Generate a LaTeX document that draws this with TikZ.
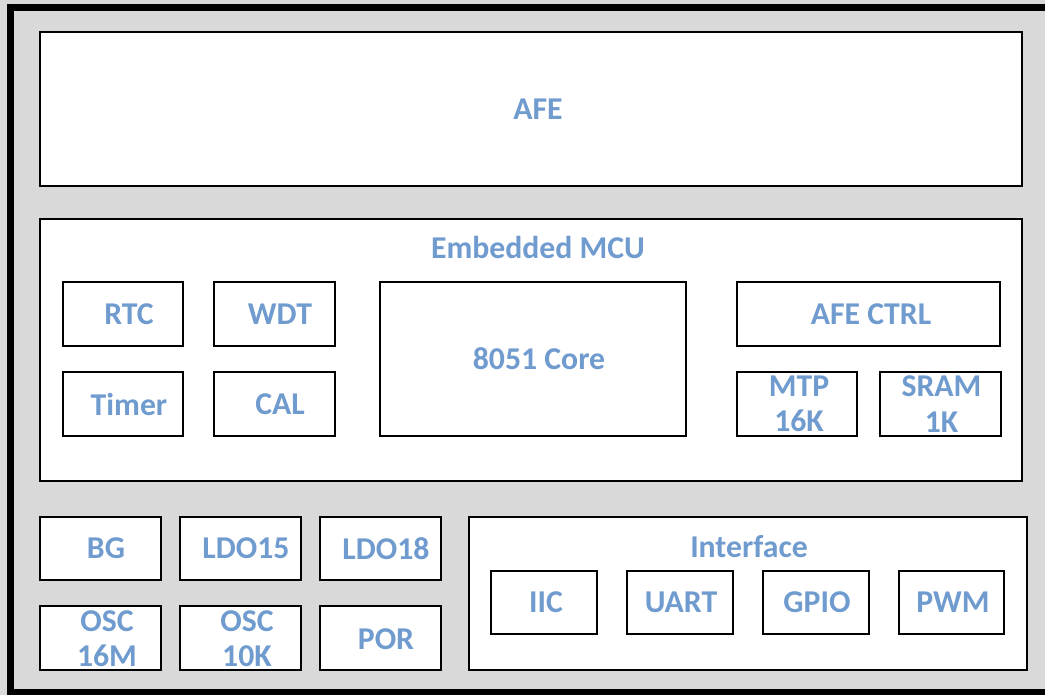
\documentclass[tikz,border=0pt]{standalone}
\usepackage{fontspec}
\setmainfont{Carlito}
\definecolor{txt}{RGB}{111,155,207}
\definecolor{bggray}{RGB}{217,217,217}
\begin{document}
\begin{tikzpicture}[x=0.75pt,y=-0.75pt,
  box/.style={draw=black,line width=1.5pt,fill=white,inner sep=0pt,outer sep=0pt},
  lbl/.style={text=txt,font=\fontsize{23.8}{26.5}\selectfont\bfseries,align=center,inner sep=0pt}]
\useasboundingbox (0,0) rectangle (1045,695);
\fill[bggray] (0,0) rectangle (1045,695);
\draw[line width=5.25pt] (1060,7.5) -- (10.5,7.5) -- (10.5,692) -- (1060,692);
% AFE
\node[box,minimum width=982*0.75pt,minimum height=154*0.75pt] (afe) at (531,109) {};
\node[lbl] (afet) at (538,109) {AFE};
% Embedded MCU
\node[box,minimum width=982*0.75pt,minimum height=262*0.75pt] (mcu) at (531,350) {};
\node[lbl] (mcut) at (538,247) {Embedded MCU};
\node[box,minimum width=120*0.75pt,minimum height=64*0.75pt] (rtc) at (123,314) {};
\node[lbl] (rtct) at (129,314) {RTC};
\node[box,minimum width=121*0.75pt,minimum height=64*0.75pt] (wdt) at (274.5,314) {};
\node[lbl] (wdtt) at (280,314) {WDT};
\node[box,minimum width=120*0.75pt,minimum height=64*0.75pt] (timer) at (123,404) {};
\node[lbl] (timert) at (129,404) {Timer};
\node[box,minimum width=121*0.75pt,minimum height=64*0.75pt] (cal) at (274.5,404) {};
\node[lbl] (calt) at (280,404) {CAL};
\node[box,minimum width=306*0.75pt,minimum height=154*0.75pt] (core) at (533,359) {};
\node[lbl] (coret) at (539,359) {8051 Core};
\node[box,minimum width=263*0.75pt,minimum height=64*0.75pt] (afectrl) at (868.5,314) {};
\node[lbl] (afectrlt) at (871,314) {AFE CTRL};
\node[box,minimum width=120*0.75pt,minimum height=64*0.75pt] (mtp) at (797,404) {};
\node[lbl] (mtpt) at (799,404) {MTP\\16K};
\node[box,minimum width=121*0.75pt,minimum height=64*0.75pt] (sram) at (940.5,404) {};
\node[lbl] (sramt) at (941.5,404) {SRAM\\1K};
% power / clock
\node[box,minimum width=121*0.75pt,minimum height=63*0.75pt] (bg) at (100.5,548.5) {};
\node[lbl] (bgt) at (106,548.5) {BG};
\node[box,minimum width=121*0.75pt,minimum height=63*0.75pt] (ldoa) at (240.5,548.5) {};
\node[lbl] (ldoat) at (246,548.5) {LDO15};
\node[box,minimum width=121*0.75pt,minimum height=63*0.75pt] (ldob) at (380.5,548.5) {};
\node[lbl] (ldobt) at (386,548.5) {LDO18};
\node[box,minimum width=121*0.75pt,minimum height=64*0.75pt] (osca) at (100.5,638) {};
\node[lbl] (oscat) at (107,639) {OSC\\16M};
\node[box,minimum width=121*0.75pt,minimum height=64*0.75pt] (oscb) at (240.5,638) {};
\node[lbl] (oscbt) at (247,639) {OSC\\10K};
\node[box,minimum width=121*0.75pt,minimum height=64*0.75pt] (por) at (380.5,638) {};
\node[lbl] (port) at (386,639) {POR};
% Interface
\node[box,minimum width=558*0.75pt,minimum height=153*0.75pt] (intf) at (748,593.5) {};
\node[lbl] (intft) at (749,547) {Interface};
\node[box,minimum width=106*0.75pt,minimum height=63*0.75pt] (iic) at (544,602.5) {};
\node[lbl] (iict) at (546,602.5) {IIC};
\node[box,minimum width=106*0.75pt,minimum height=63*0.75pt] (uart) at (680,602.5) {};
\node[lbl] (uartt) at (681,602.5) {UART};
\node[box,minimum width=106*0.75pt,minimum height=63*0.75pt] (gpio) at (816,602.5) {};
\node[lbl] (gpiot) at (817,602.5) {GPIO};
\node[box,minimum width=105*0.75pt,minimum height=63*0.75pt] (pwm) at (951.5,602.5) {};
\node[lbl] (pwmt) at (953,602.5) {PWM};
\end{tikzpicture}
\end{document}
